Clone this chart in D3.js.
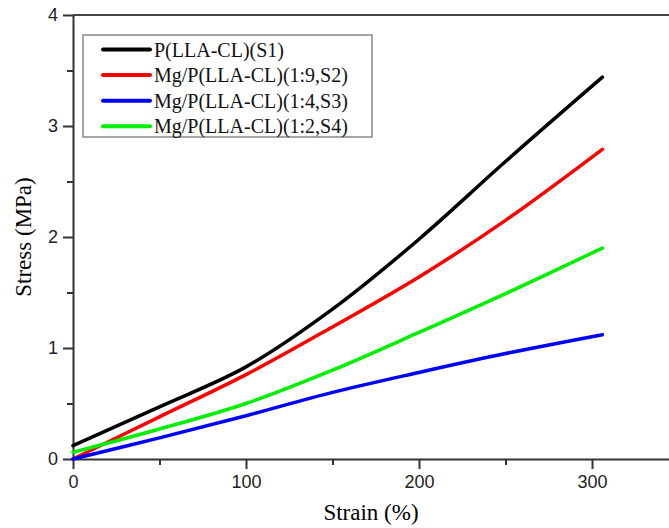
<!DOCTYPE html>
<html>
<head>
<meta charset="utf-8">
<script src="https://cdn.jsdelivr.net/npm/d3@7"></script>
<style>
  body { margin: 0; background: #fff; }
  svg { display: block; }
  .tick text { font-family: "Liberation Sans", Arial, sans-serif; font-size: 18px; fill: #222; }
  .axis path, .axis line { stroke: #333; }
</style>
</head>
<body>
<svg id="chart" width="669" height="528"></svg>
<script>
// strain (%) sample points
var strain = [0, 50, 100, 150, 200, 250, 306];

var stressS1 = [0.12, 0.47, 0.83, 1.35, 1.98, 2.68, 3.44];
var stressS2 = [0.0, 0.38, 0.76, 1.19, 1.64, 2.15, 2.79];
var stressS3 = [0.0, 0.19, 0.39, 0.60, 0.78, 0.95, 1.12];
var stressS4 = [0.06, 0.27, 0.50, 0.80, 1.14, 1.49, 1.90];

var seriesNames = ["P(LLA-CL)(S1)", "Mg/P(LLA-CL)(1:9,S2)", "Mg/P(LLA-CL)(1:4,S3)", "Mg/P(LLA-CL)(1:2,S4)"];
var seriesColors = ["#000000", "#ff0000", "#0000ff", "#00ee00"];
var seriesValues = [stressS1, stressS2, stressS3, stressS4];

var xTicks = [0, 100, 200, 300];
var xMinor = [50, 150, 250];
var yTicks = [0, 1, 2, 3, 4];
var yMinor = [0.5, 1.5, 2.5, 3.5];

var svg = d3.select("#chart");

var x = d3.scaleLinear().domain([0, 350]).range([73, 678.5]);
var y = d3.scaleLinear().domain([0, 4]).range([459, 15]);

// top frame
svg.append("line")
    .attr("x1", x(0)).attr("x2", x(350))
    .attr("y1", y(4)).attr("y2", y(4))
    .style("stroke", "#444").style("stroke-width", 2);

// minor ticks first, major axis on top
svg.append("g")
    .attr("class", "axis")
    .attr("transform", "translate(0," + y(0) + ")")
    .call(d3.axisBottom(x).tickValues(xMinor).tickSize(6).tickFormat(""))
    .select(".domain").remove();
svg.append("g")
    .attr("class", "axis")
    .attr("transform", "translate(" + x(0) + ",0)")
    .call(d3.axisLeft(y).tickValues(yMinor).tickSize(6).tickFormat(""))
    .select(".domain").remove();

var xAxis = svg.append("g")
    .attr("class", "axis")
    .attr("transform", "translate(0," + y(0) + ")")
    .call(d3.axisBottom(x).tickValues(xTicks).tickSize(10).tickSizeOuter(0).tickPadding(6).tickFormat(d3.format("d")));

var yAxis = svg.append("g")
    .attr("class", "axis")
    .attr("transform", "translate(" + x(0) + ",0)")
    .call(d3.axisLeft(y).tickValues(yTicks).tickSize(10).tickSizeOuter(0).tickPadding(5).tickFormat(d3.format("d")));

svg.selectAll(".axis path, .axis line").style("stroke-width", 2);

// curves
var line = d3.line()
    .x(function (d, i) { return x(strain[i]) })
    .y(function (d) { return y(d) })
    .curve(d3.curveCatmullRom);

svg.selectAll(".curve")
    .data(seriesValues)
    .enter()
    .append("path")
    .attr("class", "curve")
    .attr("d", line)
    .style("fill", "none")
    .style("stroke", function (d, i) { return seriesColors[i] })
    .style("stroke-width", 3.5)
    .style("stroke-linecap", "round");

// axis titles
svg.append("text")
    .attr("x", 371).attr("y", 520)
    .attr("text-anchor", "middle")
    .style("font-family", "'Liberation Serif', 'Times New Roman', serif")
    .style("font-size", "23px")
    .text("Strain (%)");

svg.append("text")
    .attr("transform", "translate(31,237) rotate(-90)")
    .attr("text-anchor", "middle")
    .style("font-family", "'Liberation Serif', 'Times New Roman', serif")
    .style("font-size", "23px")
    .text("Stress (MPa)");

// legend
var legend = svg.append("g");
legend.append("rect")
    .attr("x", 83).attr("y", 35)
    .attr("width", 289).attr("height", 102)
    .style("fill", "#fff")
    .style("stroke", "#888")
    .style("stroke-width", 1.5);

var items = legend.selectAll(".item")
    .data(seriesNames)
    .enter()
    .append("g")
    .attr("class", "item")
    .attr("transform", function (d, i) { return "translate(0," + (49.5 + 25.6 * i) + ")" });

items.append("line")
    .attr("x1", 103).attr("x2", 150)
    .style("stroke", function (d, i) { return seriesColors[i] })
    .style("stroke-width", 4)
    .style("stroke-linecap", "round");

items.append("text")
    .attr("x", 154).attr("y", 7)
    .style("font-family", "'Liberation Serif', 'Times New Roman', serif")
    .style("font-size", "20px")
    .style("fill", "#111")
    .text(function (d) { return d });
</script>
</body>
</html>
